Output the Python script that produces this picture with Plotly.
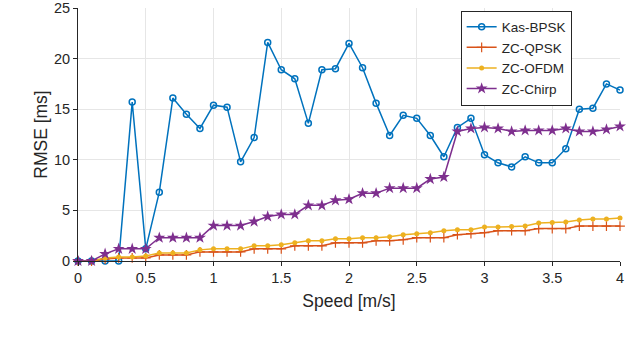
import plotly.graph_objects as go

# Speed axis, 0 to 4 m/s in steps of 0.1
speed = [round(i * 0.1, 1) for i in range(41)]

kas_bpsk = [0, 0, 0, 0, 15.7, 1.2, 6.8, 16.1, 14.5, 13.1,
            15.4, 15.2, 9.8, 12.2, 21.6, 18.9, 18.0, 13.6, 18.9, 19.0,
            21.5, 19.1, 15.6, 12.4, 14.4, 14.1, 12.4, 10.3, 13.2, 14.1,
            10.5, 9.7, 9.3, 10.3, 9.7, 9.7, 11.1, 15.0, 15.1, 17.5, 16.9]

zc_qpsk = [0, 0, 0.2, 0.3, 0.3, 0.3, 0.6, 0.6, 0.6, 0.9,
           0.9, 0.9, 0.9, 1.2, 1.2, 1.2, 1.5, 1.5, 1.5, 1.8,
           1.8, 1.8, 2.0, 2.0, 2.1, 2.3, 2.3, 2.3, 2.6, 2.7,
           2.8, 3.0, 3.0, 3.0, 3.2, 3.2, 3.2, 3.45, 3.45, 3.45, 3.45]

zc_ofdm = [0, 0, 0.3, 0.4, 0.4, 0.5, 0.8, 0.8, 0.8, 1.1,
           1.2, 1.2, 1.2, 1.5, 1.5, 1.6, 1.8, 2.0, 2.0, 2.2,
           2.2, 2.3, 2.3, 2.4, 2.6, 2.7, 2.8, 3.0, 3.1, 3.1,
           3.35, 3.35, 3.4, 3.45, 3.75, 3.8, 3.85, 4.05, 4.15, 4.15, 4.25]

zc_chirp = [0, 0, 0.7, 1.2, 1.2, 1.2, 2.3, 2.3, 2.3, 2.3,
            3.5, 3.5, 3.5, 3.9, 4.4, 4.6, 4.6, 5.5, 5.5, 6.0,
            6.1, 6.7, 6.7, 7.2, 7.2, 7.2, 8.1, 8.3, 12.8, 13.1,
            13.2, 13.1, 12.8, 12.9, 12.9, 12.9, 13.1, 12.8, 12.8, 13.0, 13.3]

series = [
    ("Kas-BPSK", kas_bpsk, "#0072BD", dict(symbol="circle-open", size=6, line=dict(width=1.5))),
    ("ZC-QPSK", zc_qpsk, "#D95319", dict(symbol="cross-thin-open", size=7, line=dict(width=1.2))),
    ("ZC-OFDM", zc_ofdm, "#EDB120", dict(symbol="circle", size=5)),
    ("ZC-Chirp", zc_chirp, "#7E2F8E", dict(symbol="star", size=9)),
]

fig = go.Figure()
for name, vals, col, mk in series:
    mk = dict(mk, color=col)
    if "line" in mk:
        mk["line"] = dict(mk["line"], color=col)
    fig.add_trace(go.Scatter(x=speed, y=vals, name=name, mode="lines+markers",
                             line=dict(color=col, width=1.5), marker=mk, cliponaxis=False))

axis_style = dict(showgrid=True, gridcolor="#e6e6e6", gridwidth=1,
                  showline=True, linecolor="#262626", linewidth=1,
                  ticks="outside", ticklen=4, tickcolor="#262626",
                  zeroline=False, automargin=False, ticklabeloverflow="allow",
                  tickfont=dict(size=14.5, color="#262626"))

fig.update_xaxes(range=[0, 4], tickvals=[0, 0.5, 1, 1.5, 2, 2.5, 3, 3.5, 4],
                 ticktext=["0", "0.5", "1", "1.5", "2", "2.5", "3", "3.5", "4"],
                 title=dict(text="Speed [m/s]", font=dict(size=17.5, color="#262626"), standoff=9),
                 **axis_style)
fig.update_yaxes(range=[0, 25], tickvals=[0, 5, 10, 15, 20, 25],
                 title=dict(text="RMSE [ms]", font=dict(size=17.5, color="#262626"), standoff=1),
                 **axis_style)

fig.update_layout(
    width=640, height=344,
    margin=dict(l=78, r=20, t=8, b=83),
    paper_bgcolor="white", plot_bgcolor="white",
    font=dict(family="Liberation Sans, Arial", color="#262626"),
    legend=dict(x=0.706, y=0.99, xanchor="left", yanchor="top",
                bordercolor="#262626", borderwidth=1, bgcolor="white",
                font=dict(size=13.5), tracegroupgap=0, itemwidth=30),
    showlegend=True,
)

# drop the browser's default 8px body margin so the figure sits at the page corner
fig.write_html("out.html", config={"displayModeBar": False},
               post_script="document.body.style.margin='0';")
